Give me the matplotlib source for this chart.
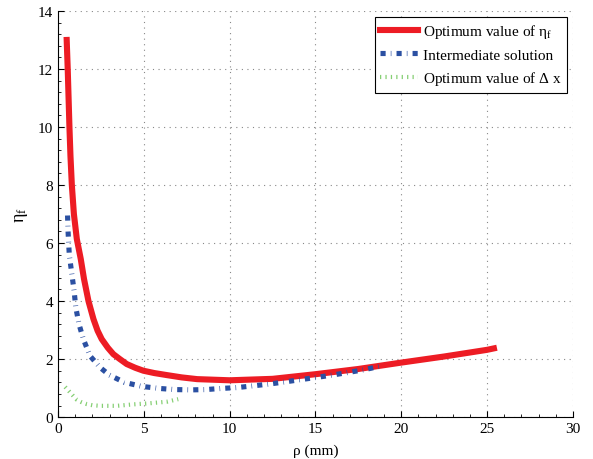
import numpy as np
import matplotlib
matplotlib.use("Agg")
import matplotlib.pyplot as plt
from matplotlib.ticker import AutoMinorLocator

plt.rcParams['font.family'] = ['Liberation Serif', 'DejaVu Serif']
plt.rcParams['mathtext.fontset'] = 'custom'
plt.rcParams['mathtext.rm'] = 'Liberation Serif'
plt.rcParams['mathtext.it'] = 'Liberation Serif'

# optimum value of eta_f (red)
rho_opt = [0.5, 0.56, 0.61, 0.66, 0.72, 0.8, 0.92, 1.09, 1.32, 1.51, 1.77,
           2.06, 2.3, 2.54, 2.9, 3.22, 3.6, 4.0, 4.5, 4.97, 5.6, 6.33, 7.2,
           8.1, 10.0, 12.5, 15.0, 17.5, 20.0, 22.5, 25.0, 25.4]
eta_opt = [13.0, 12.0, 11.0, 10.0, 9.0, 8.0, 7.0, 6.14, 5.45, 4.76, 4.0,
           3.38, 2.98, 2.69, 2.39, 2.17, 2.0, 1.83, 1.7, 1.6, 1.52, 1.45,
           1.37, 1.31, 1.27, 1.32, 1.48, 1.66, 1.88, 2.09, 2.32, 2.37]

# intermediate solution (blue)
rho_int = [0.55, 0.58, 0.65, 0.8, 0.93, 1.03, 1.22, 1.47, 1.86, 2.45, 2.99,
           3.86, 4.87, 5.88, 6.8, 7.79, 8.6, 9.53, 10.45, 11.38, 12.3,
           13.28, 14.1, 15.07, 15.98, 16.9, 17.8, 18.9]
eta_int = [6.95, 6.4, 5.6, 4.93, 4.36, 3.78, 3.2, 2.69, 2.11, 1.71, 1.45,
           1.2, 1.06, 0.99, 0.95, 0.94, 0.95, 0.99, 1.02, 1.08, 1.14,
           1.22, 1.29, 1.37, 1.45, 1.54, 1.63, 1.77]

# optimum value of delta x (green)
rho_dx = [0.41, 0.55, 0.7, 0.9, 1.09, 1.35, 1.67, 2.0, 2.45, 3.42, 4.39,
          5.36, 6.33, 7.0]
eta_dx = [1.04, 0.95, 0.85, 0.72, 0.6, 0.52, 0.45, 0.41, 0.39, 0.39, 0.44,
          0.48, 0.53, 0.62]

fig = plt.figure(figsize=(5.93, 4.6), dpi=100)
ax = fig.add_axes([0.098, 0.091, 0.868, 0.883])

ax.plot(rho_opt, eta_opt, '-', color='#ed1c24', linewidth=4.4,
        solid_joinstyle='round', label=r'Optimum value of $\mathrm{\eta_f}$')
ax.plot(rho_int, eta_int, color='#2b50a2', linewidth=3.7,
        dashes=(1.0, 1.0, 0.12, 1.0), dash_capstyle='butt',
        label='Intermediate solution')
ax.plot(rho_dx, eta_dx, color='#86cf74', linewidth=3.0,
        dashes=(0.3, 1.0), dash_capstyle='butt',
        label=r'Optimum value of $\mathrm{\Delta}$ x')

ax.set_xlim(0, 30)
ax.set_ylim(0, 14)
ax.set_xticks(np.arange(0, 31, 5))
ax.set_yticks(np.arange(0, 15, 2))
ax.xaxis.set_minor_locator(AutoMinorLocator(5))
ax.yaxis.set_minor_locator(AutoMinorLocator(5))
ax.tick_params(which='major', direction='in', length=4, labelsize=11)
ax.tick_params(which='minor', direction='in', length=2)
ax.spines['top'].set_visible(False)
ax.spines['right'].set_visible(False)
ax.grid(True, linestyle=(0, (1, 4)), color='#888888', linewidth=0.8)

ax.set_xlabel(r'ρ (mm)', fontsize=11, labelpad=6)
ax.set_ylabel(r'$\mathrm{\eta_f}$', fontsize=13, labelpad=6)

leg = ax.legend(loc='upper right', fontsize=11, fancybox=False,
                framealpha=1, edgecolor='black', handlelength=2.5,
                handletextpad=0.3, borderaxespad=0.4, labelspacing=0.5,
                borderpad=0.35)
leg.get_frame().set_linewidth(0.8)

fig.savefig("out.png", dpi=100)
